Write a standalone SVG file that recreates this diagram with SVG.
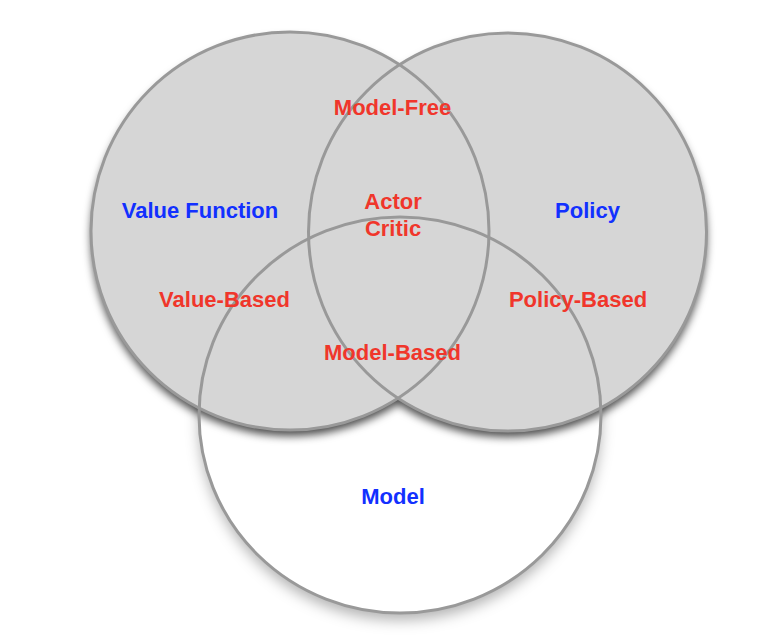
<svg xmlns="http://www.w3.org/2000/svg" width="780" height="644" viewBox="0 0 780 644">
  <defs>
    <filter id="shadowDark" x="-20%" y="-20%" width="140%" height="140%">
      <feDropShadow dx="0" dy="6" stdDeviation="4" flood-color="#000" flood-opacity="0.7"/>
    </filter>
    <filter id="shadowLight" x="-20%" y="-20%" width="140%" height="140%">
      <feDropShadow dx="0" dy="7" stdDeviation="7" flood-color="#000" flood-opacity="0.3"/>
    </filter>
  </defs>
  <style>
    .ring { fill: none; stroke: #999999; stroke-width: 3; }
    .lbl { font-family: "Liberation Sans", Arial, Helvetica, sans-serif; font-weight: bold; font-size: 22px; text-anchor: middle; }
    .set { fill: #1230ff; }
    .mix { fill: #f0362b; }
  </style>
  <rect width="780" height="644" fill="#ffffff"/>
  <g id="fills">
    <ellipse cx="400" cy="415" rx="201" ry="198" fill="#ffffff" filter="url(#shadowLight)"/>
    <g filter="url(#shadowDark)">
      <circle cx="290" cy="231" r="199" fill="#d6d6d6"/>
      <circle cx="507.5" cy="232" r="199" fill="#d6d6d6"/>
    </g>
  </g>
  <g id="connectors"></g>
  <g id="model">
    <ellipse class="ring" cx="400" cy="415" rx="201" ry="198"/>
    <text class="lbl set" x="393" y="504">Model</text>
  </g>
  <g id="value-function">
    <circle class="ring" cx="290" cy="231" r="199"/>
    <text class="lbl set" x="200" y="218">Value Function</text>
  </g>
  <g id="policy">
    <circle class="ring" cx="507.5" cy="232" r="199"/>
    <text class="lbl set" x="587.5" y="218">Policy</text>
  </g>
  <g id="model-free">
    <text class="lbl mix" x="392.5" y="115">Model-Free</text>
  </g>
  <g id="actor-critic">
    <text class="lbl mix" x="393" y="209">Actor</text>
    <text class="lbl mix" x="393" y="236">Critic</text>
  </g>
  <g id="value-based">
    <text class="lbl mix" x="224.5" y="307">Value-Based</text>
  </g>
  <g id="policy-based">
    <text class="lbl mix" x="578" y="307">Policy-Based</text>
  </g>
  <g id="model-based">
    <text class="lbl mix" x="392.5" y="360">Model-Based</text>
  </g>
</svg>
